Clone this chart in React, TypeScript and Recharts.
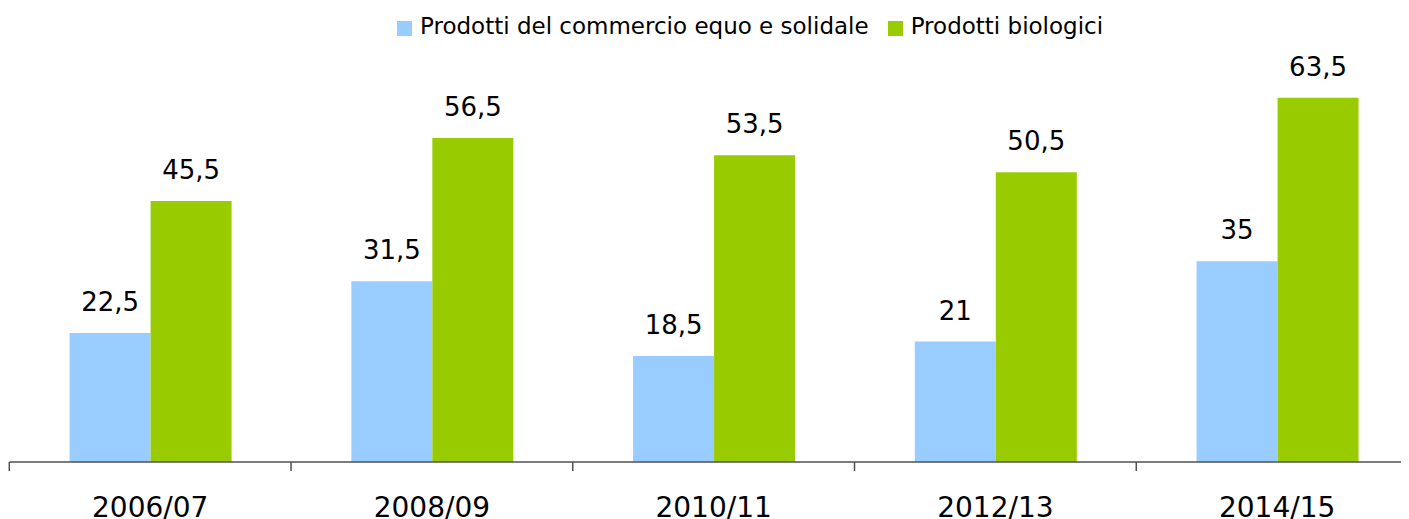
import React from 'react';
import { BarChart, Bar, XAxis, YAxis, Legend, LabelList } from 'recharts';

const categories = ['2006/07', '2008/09', '2010/11', '2012/13', '2014/15'];
const equoValues = [22.5, 31.5, 18.5, 21, 35];
const bioValues = [45.5, 56.5, 53.5, 50.5, 63.5];
const seriesNames = ['Prodotti del commercio equo e solidale', 'Prodotti biologici'];
const seriesColors = ['#99CCFF', '#99CC00'];
const boundaryTicks = [0, 1, 2, 3, 4, 5];

const data = categories.map((c, i) => ({ name: c, pos: i + 0.5, equo: equoValues[i], bio: bioValues[i] }));

const fmt = (v: any) => String(v).replace('.', ',');

const FONT = '"DejaVu Sans", sans-serif';

const LegendContent = () => (
  <div style={{ height: 40, position: 'relative', fontFamily: FONT, fontSize: 23, color: '#000' }}>
    <div style={{ position: 'absolute', left: 389, top: 0, display: 'flex', alignItems: 'center', height: 32, whiteSpace: 'nowrap' }}>
      <span style={{ width: 15, height: 15, background: seriesColors[0], display: 'inline-block', marginRight: 8, marginTop: 8 }} />
      <span style={{ marginRight: 19, lineHeight: '32px', marginTop: 4 }}>{seriesNames[0]}</span>
      <span style={{ width: 15, height: 15, background: seriesColors[1], display: 'inline-block', marginRight: 8, marginTop: 8 }} />
      <span style={{ lineHeight: '32px', marginTop: 4 }}>{seriesNames[1]}</span>
    </div>
  </div>
);

const EmptyTick = () => <g />;

export default function App() {
  return (
    <div style={{ width: 1401, height: 511, overflow: 'hidden', position: 'relative' }}>
      <BarChart
        width={1410}
        height={511}
        data={data}
        margin={{ top: 12.5, right: 0, bottom: 0, left: 1.3 }}
        barCategoryGap="21.4%"
        barGap={0}
      >
        <Legend verticalAlign="top" align="left" wrapperStyle={{ top: 0, left: 0, width: 1410 }} content={<LegendContent />} />
        <XAxis
          xAxisId="b"
          dataKey="name"
          height={56}
          tickSize={0}
          tickMargin={34}
          axisLine={false}
          tickLine={false}
          tick={{ fill: '#000', fontSize: 28, fontFamily: FONT }}
          interval={0}
        />
        <XAxis
          xAxisId="a"
          dataKey="pos"
          type="number"
          domain={[0, 5]}
          ticks={boundaryTicks}
          interval={0}
          allowDataOverflow
          height={1}
          tickSize={9}
          axisLine={{ stroke: '#505050', strokeWidth: 1.5 }}
          tickLine={{ stroke: '#505050', strokeWidth: 1.5 }}
          tick={<EmptyTick />}
        />
        <YAxis hide domain={[0, 70]} />
        <Bar xAxisId="b" dataKey="equo" name={seriesNames[0]} fill={seriesColors[0]} isAnimationActive={false}>
          <LabelList dataKey="equo" position="top" offset={22} formatter={fmt} style={{ fill: '#000', fontSize: 26, fontFamily: FONT }} />
        </Bar>
        <Bar xAxisId="b" dataKey="bio" name={seriesNames[1]} fill={seriesColors[1]} isAnimationActive={false}>
          <LabelList dataKey="bio" position="top" offset={22} formatter={fmt} style={{ fill: '#000', fontSize: 26, fontFamily: FONT }} />
        </Bar>
      </BarChart>
    </div>
  );
}
